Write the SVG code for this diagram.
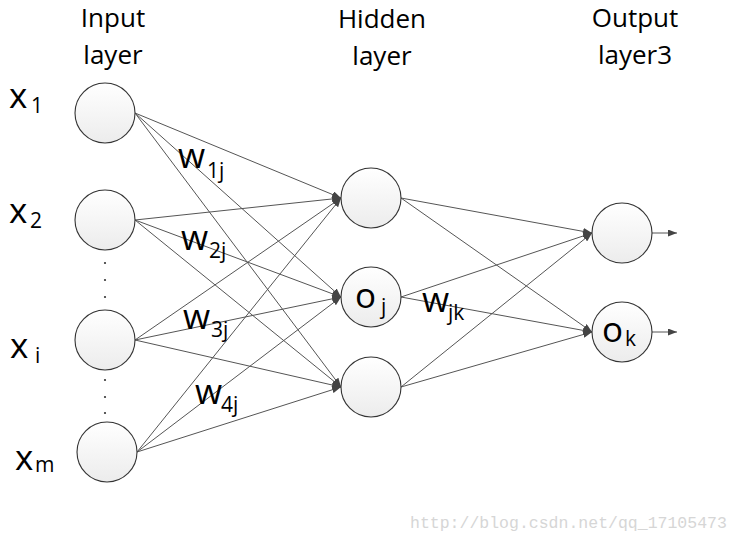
<svg xmlns="http://www.w3.org/2000/svg" width="740" height="545" viewBox="0 0 740 545">
<style>
.node{fill:url(#g);stroke:#333;stroke-width:1.1}
.ln{stroke:#555;stroke-width:1;fill:none}
.t{font-family:"Open Sans","Liberation Sans",sans-serif;fill:#000}
.h{font-size:26px;text-anchor:middle}
.m{font-size:35px}
.s{font-size:21px}
.wm{font-family:"Liberation Mono",monospace;font-size:16.5px;fill:#d6d6d6}
</style>
<defs>
<linearGradient id="g" x1="0" y1="0" x2="0" y2="1">
<stop offset="0" stop-color="#ffffff"/>
<stop offset="1" stop-color="#ececec"/>
</linearGradient>
<marker id="a" markerUnits="userSpaceOnUse" markerWidth="9" markerHeight="7" refX="9" refY="3.5" orient="auto">
<path d="M0,0 L9,3.5 L0,7 z" fill="#444"/>
</marker>
</defs>
<rect width="740" height="545" fill="#fff"/>
<g id="headers">
<text class="t h" x="113" y="27">Input</text>
<text class="t h" x="113" y="64">layer</text>
<text class="t h" x="382" y="28">Hidden</text>
<text class="t h" x="382" y="65">layer</text>
<text class="t h" x="635" y="27">Output</text>
<text class="t h" x="635" y="64">layer3</text>
</g>
<g id="connectors">
<line class="ln" x1="135" y1="113" x2="341" y2="198" marker-end="url(#a)"/>
<line class="ln" x1="135" y1="113" x2="341" y2="297" marker-end="url(#a)"/>
<line class="ln" x1="135" y1="113" x2="341" y2="387" marker-end="url(#a)"/>
<line class="ln" x1="135" y1="220" x2="341" y2="198" marker-end="url(#a)"/>
<line class="ln" x1="135" y1="220" x2="341" y2="297" marker-end="url(#a)"/>
<line class="ln" x1="135" y1="220" x2="341" y2="387" marker-end="url(#a)"/>
<line class="ln" x1="135" y1="340" x2="341" y2="198" marker-end="url(#a)"/>
<line class="ln" x1="135" y1="340" x2="341" y2="297" marker-end="url(#a)"/>
<line class="ln" x1="135" y1="340" x2="341" y2="387" marker-end="url(#a)"/>
<line class="ln" x1="137" y1="452" x2="341" y2="198" marker-end="url(#a)"/>
<line class="ln" x1="137" y1="452" x2="341" y2="297" marker-end="url(#a)"/>
<line class="ln" x1="137" y1="452" x2="341" y2="387" marker-end="url(#a)"/>
<line class="ln" x1="401" y1="198" x2="592" y2="233" marker-end="url(#a)"/>
<line class="ln" x1="401" y1="198" x2="592" y2="332" marker-end="url(#a)"/>
<line class="ln" x1="401" y1="297" x2="592" y2="233" marker-end="url(#a)"/>
<line class="ln" x1="401" y1="297" x2="592" y2="332" marker-end="url(#a)"/>
<line class="ln" x1="401" y1="387" x2="592" y2="233" marker-end="url(#a)"/>
<line class="ln" x1="401" y1="387" x2="592" y2="332" marker-end="url(#a)"/>
<line class="ln" x1="652" y1="233" x2="677" y2="233" marker-end="url(#a)"/>
<line class="ln" x1="652" y1="332" x2="677" y2="332" marker-end="url(#a)"/>
</g>
<g id="in1"><circle class="node" cx="105" cy="113" r="30"/><text class="t m" x="9" y="108">x<tspan class="s" x="31" y="113">1</tspan></text></g>
<g id="in2"><circle class="node" cx="105" cy="220" r="30"/><text class="t m" x="9" y="223">x<tspan class="s" x="30" y="228">2</tspan></text></g>
<g id="ini"><circle class="node" cx="105" cy="340" r="30"/><text class="t m" x="10" y="358">x<tspan class="s" x="35" y="363">i</tspan></text></g>
<g id="inm"><circle class="node" cx="107" cy="452" r="30"/><text class="t m" x="15" y="470">x<tspan class="s" x="35" y="472">m</tspan></text></g>
<g id="dots" fill="#333">
<circle cx="105" cy="263" r="1.1"/><circle cx="105" cy="280" r="1.1"/><circle cx="105" cy="297" r="1.1"/>
<circle cx="105" cy="380" r="1.1"/><circle cx="105" cy="397" r="1.1"/><circle cx="105" cy="413" r="1.1"/>
</g>
<g id="h1"><circle class="node" cx="371" cy="198" r="30"/></g>
<g id="h2"><circle class="node" cx="371" cy="297" r="30"/><text class="t m" x="355" y="308">o<tspan class="s" x="381" y="314">j</tspan></text></g>
<g id="h3"><circle class="node" cx="371" cy="387" r="30"/></g>
<g id="o1"><circle class="node" cx="622" cy="233" r="30"/></g>
<g id="o2"><circle class="node" cx="622" cy="332" r="30"/><text class="t m" x="602" y="342">o<tspan class="s" x="625" y="346">k</tspan></text></g>
<g id="weights">
<text class="t m" x="178" y="168">w<tspan class="s" x="207" y="178">1j</tspan></text>
<text class="t m" x="181" y="250">w<tspan class="s" x="209" y="258">2j</tspan></text>
<text class="t m" x="183" y="329">w<tspan class="s" x="211" y="337">3j</tspan></text>
<text class="t m" x="195" y="404">w<tspan class="s" x="221" y="412">4j</tspan></text>
<text class="t m" x="422" y="312">w<tspan class="s" x="448" y="320">jk</tspan></text>
</g>
<text class="wm" x="410" y="528">http://blog.csdn.net/qq_17105473</text>
</svg>
